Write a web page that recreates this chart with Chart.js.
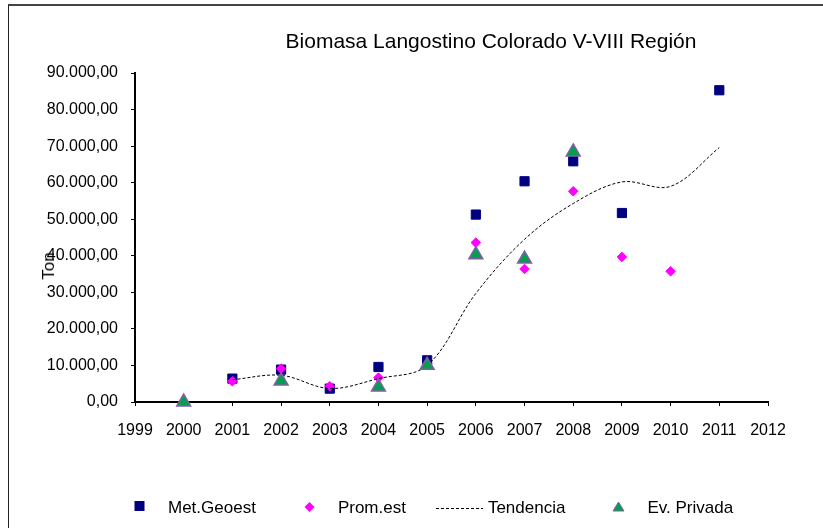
<!DOCTYPE html>
<html>
<head>
<meta charset="utf-8">
<script src="https://cdn.jsdelivr.net/npm/chart.js@4.4.1/dist/chart.umd.min.js"></script>
<style>
  html, body { margin: 0; padding: 0; background: #fff; overflow: hidden; }
  #wrap { position: relative; width: 823px; height: 528px; font-family: "Liberation Sans", Arial, sans-serif; color: #000; }
  #frame { position: absolute; left: 8px; top: 4px; width: 900px; height: 600px; border-top: 2px solid #444; border-left: 1px solid #222; }
  canvas { position: absolute; left: 0; top: 0; }
  #title { position: absolute; left: 191px; width: 600px; top: 29px; text-align: center; font-size: 21px; line-height: 24px; }
  #ylabel { position: absolute; left: 49px; top: 266px; font-size: 17px; line-height: 18px; transform: translate(-50%, -50%) rotate(-90deg); }
  #legend { position: absolute; left: 111px; top: 498px; display: flex; gap: 25px; font-size: 17px; line-height: 20px; }
  .item { display: flex; align-items: center; }
  .item svg { width: 57px; height: 20px; display: block; }
</style>
</head>
<body>
<div id="wrap">
  <div id="frame"></div>
  <canvas id="biomasaChart" width="823" height="528"></canvas>
  <div id="title">Biomasa Langostino Colorado V-VIII Región</div>
  <div id="ylabel">Ton</div>
  <div id="legend">
    <div class="item"><svg><rect x="23.5" y="3" width="10" height="10" fill="#000080"/></svg>Met.Geoest</div>
    <div class="item"><svg><polygon points="28.5,4 33.5,9 28.5,14 23.5,9" fill="#ff00ff"/></svg>Prom.est</div>
    <div class="item"><svg><line x1="5" y1="10.5" x2="52" y2="10.5" stroke="#000" stroke-width="1" stroke-dasharray="3,2"/></svg>Tendencia</div>
    <div class="item"><svg><polygon points="28.5,4 34,13 23,13" fill="#00a050" stroke="#8060a0" stroke-width="1"/></svg>Ev. Privada</div>
  </div>
</div>
<script>
// Years on the x axis (1999 - 2012)
const years = ['1999', '2000', '2001', '2002', '2003', '2004', '2005', '2006', '2007', '2008', '2009', '2010', '2011', '2012'];

// Series values (Ton), null where there is no point
const metGeoest = [null, null, 6400, 8860, 3660, 9580, 11400, 51270, 60380, 65850, 51700, null, 85280, null];
const promEst   = [null, null, 5660, 9130, 4300, 6670, 10300, 43600, 36400, 57650, 39680, 35760, null, null];
const tendencia = [null, null, 6100, 7300, 3700, 6400, 10000, 29700, 44500, 54300, 60200, 59000, 69600, null];
const evPrivada = [null, 0, null, 5750, null, 4100, 10040, 40300, 39100, 68400, null, null, null, null];

// Y axis ticks
const yTicks = [0, 10000, 20000, 30000, 40000, 50000, 60000, 70000, 80000, 90000];

const fontFamily = '"Liberation Sans", Arial, sans-serif';

// 90000 -> "90.000,00"
function formatTon(v) {
    const s = Math.round(v).toString().replace(/\B(?=(\d{3})+(?!\d))/g, '.');
    return s + ',00';
}

const axisBase = {
    grid: { drawOnChartArea: false, drawTicks: true, tickLength: 4, color: '#000', lineWidth: 1 },
    border: { color: '#000', width: 2 }
};

const ctx = document.getElementById('biomasaChart').getContext('2d');
const biomasaChart = new Chart(ctx, {
    type: 'line',
    data: {
        labels: years,
        datasets: [{
            label: 'Met.Geoest',
            data: metGeoest,
            showLine: false,
            pointStyle: 'rect',
            pointRadius: 6.5,
            backgroundColor: '#000080',
            borderColor: '#000080',
            borderWidth: 1,
            clip: false,
            order: 3
        }, {
            label: 'Prom.est',
            data: promEst,
            showLine: false,
            pointStyle: 'rectRot',
            pointRadius: 4.8,
            backgroundColor: '#ff00ff',
            borderColor: '#ff00ff',
            borderWidth: 1,
            clip: false,
            order: 2
        }, {
            label: 'Tendencia',
            data: tendencia,
            borderColor: '#000',
            borderWidth: 1,
            borderDash: [3, 2],
            pointRadius: 0,
            tension: 0.35,
            fill: false,
            order: 1
        }, {
            label: 'Ev. Privada',
            data: evPrivada,
            showLine: false,
            pointStyle: 'triangle',
            pointRadius: 8,
            backgroundColor: '#00a050',
            borderColor: '#8060a0',
            borderWidth: 1.5,
            clip: false,
            order: 0
        }]
    },
    options: {
        responsive: false,
        animation: false,
        events: [],
        layout: { padding: { left: 0, top: 73, right: 55, bottom: 0 } },
        plugins: {
            legend: { display: false },
            tooltip: { enabled: false }
        },
        scales: {
            x: {
                ...axisBase,
                offset: false,
                ticks: { color: '#000', font: { family: fontFamily, size: 16 }, padding: 15, maxRotation: 0, autoSkip: false },
                afterFit: scale => { scale.height = 126; }
            },
            y: {
                ...axisBase,
                min: 0,
                max: 90000,
                afterBuildTicks: scale => { scale.ticks = yTicks.map(v => ({ value: v })); },
                ticks: { color: '#000', font: { family: fontFamily, size: 16 }, padding: 13, callback: v => formatTon(v) },
                afterFit: scale => { scale.width = 135; }
            }
        }
    }
});
</script>
</body>
</html>
